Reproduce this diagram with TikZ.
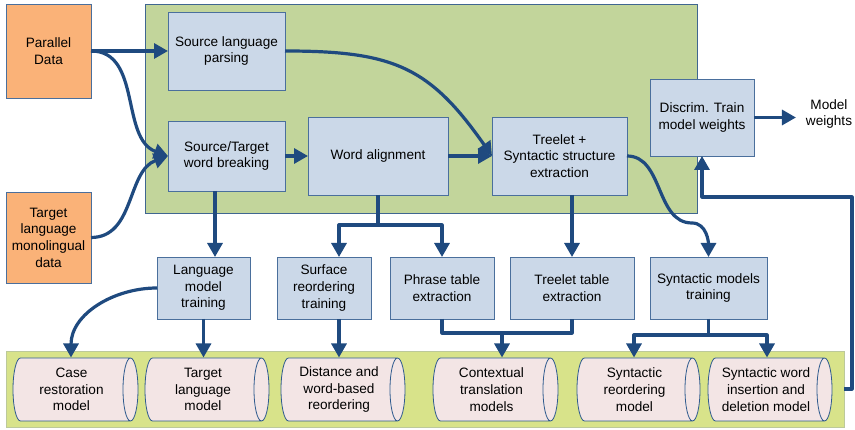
\documentclass[tikz,border=0pt]{standalone}
\usepackage{fontspec}
\setmainfont{Liberation Sans}
\usetikzlibrary{arrows.meta,calc}

\definecolor{flowblue}{HTML}{1F4A7F}
\definecolor{boxfill}{HTML}{CBD8E8}
\definecolor{boxline}{HTML}{4A6F9C}
\definecolor{datafill}{HTML}{FAB278}
\definecolor{greenarea}{HTML}{C2D59B}
\definecolor{greenline}{HTML}{3F6690}
\definecolor{bandfill}{HTML}{D8E38A}
\definecolor{bandline}{HTML}{BCC99A}
\definecolor{cylfill}{HTML}{F3E5E5}
\definecolor{cylline}{HTML}{2F5B8E}

\begin{document}
\begin{tikzpicture}[x=1pt,y=1pt,
  every node/.style={font=\fontsize{13.6}{16.7}\selectfont, align=center,
    outer sep=0pt, inner sep=1pt},
  procbox/.style={draw=boxline, line width=0.8pt, fill=boxfill},
  databox/.style={draw=boxline, line width=0.8pt, fill=datafill},
  corearea/.style={draw=greenline, line width=0.7pt, fill=greenarea},
  modelband/.style={draw=bandline, line width=0.8pt, fill=bandfill},
  % horizontal storage cylinder, drawn inside the node rectangle
  store/.style={minimum width=#1+1, minimum height=64, inner sep=0pt,
    path picture={
      \draw[draw=cylline, line width=0.8pt, fill=cylfill]
        let \p1=(path picture bounding box.south west),
            \p2=(path picture bounding box.north east) in
        (\x1+8pt,\y1+0.5pt) -- (\x2-8pt,\y1+0.5pt)
          arc[start angle=-90, end angle=90, x radius=7.5pt, y radius=31.5pt]
          -- (\x1+8pt,\y2-0.5pt)
          arc[start angle=90, end angle=270, x radius=7.5pt, y radius=31.5pt]
          -- cycle
        (\x2-8pt,\y2-0.5pt)
          arc[start angle=90, end angle=270, x radius=7.5pt, y radius=31.5pt];
    }},
  flow/.style={draw=flowblue, line width=3.2pt, line join=round,
    -{Triangle[length=14pt,width=15pt]}},
  flowline/.style={draw=flowblue, line width=3.2pt, line join=round},
]
\useasboundingbox (0,0) rectangle (855,430);

% background areas
\node[corearea, minimum width=552, minimum height=209] (core) at (421,321.5) {};
\node[modelband, minimum width=838, minimum height=76] (band) at (425,41) {};

% input data
\node[databox, minimum width=85, minimum height=94] (pd) at (48.5,379) {Parallel\\Data};
\node[databox, minimum width=85, minimum height=91] (tm) at (48.5,192.5) {Target\\language\\monolingual\\data};

% processing steps inside the core area
\node[procbox, minimum width=117, minimum height=78] (slp) at (226.5,379) {Source language\\parsing};
\node[procbox, minimum width=117, minimum height=70] (wb) at (226.5,274) {Source/Target\\word breaking};
\node[procbox, minimum width=140, minimum height=78] (wa) at (378,274) {Word alignment};
\node[procbox, minimum width=135, minimum height=78] (tr) at (559.5,274) {Treelet +\\Syntactic structure\\extraction};
\node[procbox, minimum width=104, minimum height=77] (dt) at (702,312.5) {Discrim. Train\\model weights};
\node (mw) at (829,316) {Model\\weights};

% training steps
\node[procbox, minimum width=93, minimum height=62] (lmt) at (203.5,142) {Language\\model\\training};
\node[procbox, minimum width=94, minimum height=62] (srt) at (324,142) {Surface\\reordering\\training};
\node[procbox, minimum width=104, minimum height=62] (pte) at (442,142) {Phrase table\\extraction};
\node[procbox, minimum width=124, minimum height=62] (tte) at (572,142) {Treelet table\\extraction};
\node[procbox, minimum width=117, minimum height=62] (smt) at (708.5,142) {Syntactic models\\training};

% resulting models
\node[store=125, label={[xshift=-4pt]center:Case\\restoration\\model}] (cr) at (75.5,40.5) {};
\node[store=124, label={[xshift=-4pt]center:Target\\language\\model}] (tlm) at (207,40.5) {};
\node[store=124, label={[xshift=-4pt]center:Distance and\\word-based\\reordering}] (dwr) at (343,40.5) {};
\node[store=125, label={[xshift=-4pt]center:Contextual\\translation\\models}] (ctm) at (495.5,40.5) {};
\node[store=123, label={[xshift=-4pt]center:Syntactic\\reordering\\model}] (srm) at (638.5,40.5) {};
\node[store=124, label={[xshift=-4pt]center:Syntactic word\\insertion and\\deletion model}] (swi) at (770,40.5) {};

% junction points
\coordinate (wj) at ([yshift=-30pt]wa.south);
\coordinate (pj) at (502,97);
\coordinate (sj) at ([yshift=-16pt]smt.south);

% connectors in the core area
\draw[flow] (pd.east) -- (slp.west);
\draw[flow] (pd.east) to[out=0,in=160] (wb.west);
\draw[flow] (tm.east) to[out=0,in=200] (wb.west);
\draw[flow] (slp.east) to[out=0,in=125,looseness=1.2] (tr.west);
\draw[flow] (wb.east) -- (wa.west);
\draw[flow] (wa.east) -- (tr.west);
\draw[flow] (dt.east) -- ([xshift=-9pt]mw.west |- dt.east);

% connectors to the training steps
\draw[flow] ([xshift=-11.5pt]wb.south) -- ([xshift=11.5pt]lmt.north);
\draw[flow] (wa.south) -- (wj) -| ([xshift=15pt]srt.north);
\draw[flow] (wj) -| (pte.north);
\draw[flow] (tr.south -| tte.north) -- (tte.north);
\draw[flow] (tr.east) to[out=0,in=180] (692,207) to[out=0,in=90] (smt.north);

% connectors to the models
\draw[flow] (lmt.west) to[out=180,in=90] ([xshift=-4.5pt]cr.north);
\draw[flow] (lmt.south) -- (lmt.south |- tlm.north);
\draw[flow] ([xshift=15pt]srt.south) -- ([xshift=15pt]srt.south |- dwr.north);
\draw[flowline] (pte.south) -- (pte.south |- pj) -- (tte.south |- pj) -- (tte.south);
\draw[flow] (pj) -- (pj |- ctm.north);
\draw[flow] (smt.south) -- (sj) -| ([xshift=-4.5pt]srm.north);
\draw[flow] (sj) -| ([xshift=-3pt]swi.north);

% feedback from the models to weight training
\draw[flow] (band.east) -- ++(8,0) |- ([yshift=-41pt]dt.south) -- (dt.south);
\end{tikzpicture}
\end{document}
